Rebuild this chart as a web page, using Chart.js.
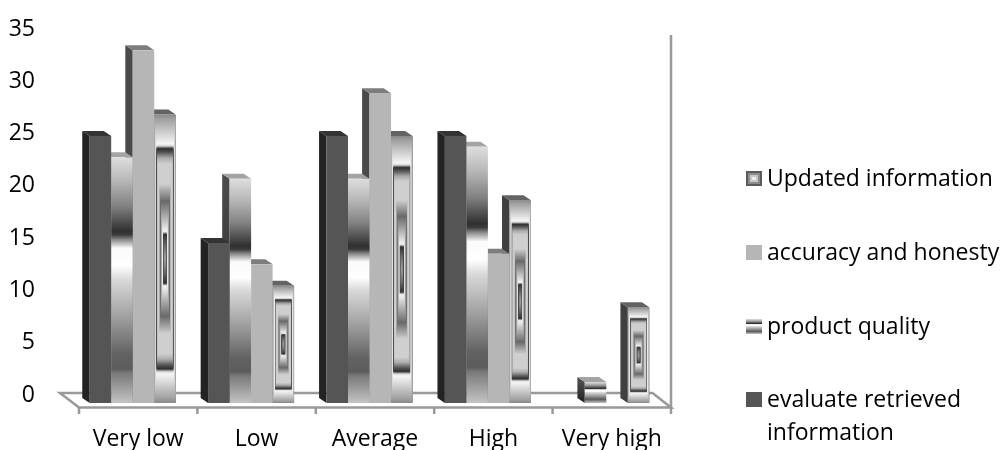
<!DOCTYPE html>
<html>
<head>
<meta charset="utf-8">
<title>Chart</title>
<script src="https://cdn.jsdelivr.net/npm/chart.js@4"></script>
<style>
  html, body { margin: 0; padding: 0; background: #fff; overflow: hidden; }
  canvas { display: block; }
</style>
</head>
<body>
<canvas id="levels_chart" width="1003" height="450"></canvas>
<script>
var categories = ['Very low', 'Low', 'Average', 'High', 'Very high'];
var yTicks = [0, 5, 10, 15, 20, 25, 30, 35];

var evaluateRetrieved = [24, 14, 24, 24, 0];
var productQuality = [22, 20, 20, 23, 1];
var accuracyHonesty = [32, 12, 28, 13, 0];
var updatedInformation = [26, 10, 24, 18, 8];

var FONT = '"Open Sans", sans-serif';
var FONT_SIZE = 23;
var DEPTH_X = 7.4;   // how far a column's back edge sits left of its front
var DEPTH_Y = 5;     // and how far above
var FLOOR_SHIFT = 5.5; // floor ticks sit right of the column plane

// grey bands used for the two patterned series
var bandStops = [
  [0, '#dedede'], [0.1, '#b5b5b5'], [0.2, '#808080'], [0.3, '#303030'],
  [0.315, '#3a3a3a'], [0.335, '#8a8a8a'], [0.37, '#fafafa'], [0.44, '#ffffff'],
  [0.5, '#d8d8d8'], [0.65, '#a0a0a0'], [0.8, '#626262'], [0.86, '#5c5c5c'],
  [0.88, '#7a7a7a'], [1, '#c4c4c4']
];
var frameStops = [
  [0, '#8a8a8a'], [0.03, '#a0a0a0'], [0.2, '#f5f5f5'], [0.215, '#dddddd'],
  [0.235, '#2f2f2f'], [0.26, '#555555'], [0.3, '#aaaaaa'], [0.34, '#cfcfcf'],
  [0.48, '#cfcfcf'], [0.6, '#6a6a6a'], [0.7, '#aaaaaa'], [0.81, '#f5f5f5'],
  [0.83, '#333333'], [0.9, '#666666'], [1, '#aaaaaa']
];

function greyAt(stops, t) {
  for (var i = 1; i < stops.length; i++) {
    if (t <= stops[i][0]) {
      var a = stops[i - 1], b = stops[i];
      var k = (t - a[0]) / (b[0] - a[0]);
      var g1 = parseInt(a[1].substr(1, 2), 16);
      var g2 = parseInt(b[1].substr(1, 2), 16);
      var g = Math.round(g1 + (g2 - g1) * k);
      return 'rgb(' + g + ',' + g + ',' + g + ')';
    }
  }
  return stops[stops.length - 1][1];
}

function fillBands(ctx, x, y, w, h) {
  var grad = ctx.createLinearGradient(0, y, 0, y + h);
  bandStops.forEach(function(s) { grad.addColorStop(s[0], s[1]); });
  ctx.fillStyle = grad;
  ctx.fillRect(x, y, w, h);
}

// nested rectangles, outer edge to centre
function fillFrame(ctx, x, y, w, h) {
  var steps = Math.max(60, Math.ceil(h));
  for (var i = 0; i < steps; i++) {
    var t = i / steps;
    ctx.fillStyle = greyAt(frameStops, t);
    ctx.fillRect(x + t * w / 2, y + t * h / 2, w * (1 - t), h * (1 - t));
  }
}

function fillSolid(color) {
  return function(ctx, x, y, w, h) {
    ctx.fillStyle = color;
    ctx.fillRect(x, y, w, h);
  };
}

function polygon(ctx, pts, fill) {
  ctx.beginPath();
  ctx.moveTo(pts[0][0], pts[0][1]);
  for (var i = 1; i < pts.length; i++) ctx.lineTo(pts[i][0], pts[i][1]);
  ctx.closePath();
  ctx.fillStyle = fill;
  ctx.fill();
}

function drawColumn(ctx, bar, look) {
  var left = bar.x - bar.width / 2;
  var right = bar.x + bar.width / 2;
  var top = bar.y;
  var base = bar.base;

  var side = look.side;
  if (look.sideBottom) {
    side = ctx.createLinearGradient(0, top, 0, base);
    side.addColorStop(0, look.side);
    side.addColorStop(1, look.sideBottom);
  }
  polygon(ctx, [[left, top], [left - DEPTH_X, top - DEPTH_Y], [left - DEPTH_X, base - DEPTH_Y], [left, base]], side);
  polygon(ctx, [[left, top], [left - DEPTH_X, top - DEPTH_Y], [right - DEPTH_X, top - DEPTH_Y], [right, top]], look.top);
  look.front(ctx, left, top, right - left, base - top);
}

var looks = [
  { front: fillSolid('#555555'), side: '#232323', top: '#333333', swatch: fillSolid('#555555') },
  { front: fillBands, side: '#4c4c4c', sideBottom: '#1f1f1f', top: '#a4a4a4', swatch: fillBands },
  { front: fillSolid('#b6b6b6'), side: '#4a4a4a', top: '#7d7d7d', swatch: fillSolid('#b6b6b6') },
  { front: fillFrame, side: '#404040', top: '#636363', swatch: function(ctx, x, y, w, h) {
    ctx.fillStyle = '#5a5a5a';
    ctx.fillRect(x, y, w, h);
    ctx.fillStyle = '#8c8c8c';
    ctx.fillRect(x + 2, y + 2, w - 4, h - 4);
    ctx.fillStyle = '#c8c8c8';
    ctx.fillRect(x + 4, y + 4, w - 8, h - 8);
    ctx.fillStyle = '#eeeeee';
    ctx.fillRect(x + 6, y + 6, w - 12, h - 12);
  } }
];

// floor, right wall and category ticks
function drawFloor(chart) {
  var ctx = chart.ctx;
  var xs = chart.scales.x;
  var backY = chart.scales.y.getPixelForValue(0);
  var frontY = backY + 14.5;
  var frontLeft = xs.left + FLOOR_SHIFT;
  var frontRight = xs.right + FLOOR_SHIFT;
  var step = (xs.right - xs.left) / categories.length;

  ctx.save();
  ctx.strokeStyle = '#999999';
  ctx.lineWidth = 2.5;
  ctx.beginPath();
  ctx.moveTo(frontLeft - 19, backY);
  ctx.lineTo(frontRight - 18.5, backY);
  ctx.lineTo(frontRight, frontY);
  ctx.lineTo(frontLeft, frontY);
  ctx.closePath();
  ctx.moveTo(frontRight, frontY);
  ctx.lineTo(frontRight, 35);
  for (var i = 0; i <= categories.length; i++) {
    ctx.moveTo(frontLeft + i * step, frontY);
    ctx.lineTo(frontLeft + i * step, frontY + 6.5);
  }
  ctx.stroke();
  ctx.restore();
}

function drawLegend(chart) {
  var ctx = chart.ctx;
  var baselines = [186, 260, 334, 407];
  ctx.save();
  ctx.font = FONT_SIZE + 'px ' + FONT;
  ctx.textBaseline = 'alphabetic';
  ctx.textAlign = 'left';
  // listed bottom up, last series first
  chart.data.datasets.forEach(function(ds, i) {
    var row = chart.data.datasets.length - 1 - i;
    var lines = [].concat(ds.label);
    looks[i].swatch(ctx, 746, baselines[row] - 15, 16, 15);
    ctx.fillStyle = '#000';
    lines.forEach(function(line, n) {
      ctx.fillText(line, 767, baselines[row] + n * 33);
    });
  });
  ctx.restore();
}

var columns3d = {
  id: 'columns3d',
  beforeDatasetsDraw: function(chart) {
    var ctx = chart.ctx;
    drawFloor(chart);
    for (var c = 0; c < categories.length; c++) {
      // right to left so each front hides the next column's side
      for (var d = chart.data.datasets.length - 1; d >= 0; d--) {
        if (!chart.data.datasets[d].data[c]) continue;
        drawColumn(ctx, chart.getDatasetMeta(d).data[c], looks[d]);
      }
    }
    drawLegend(chart);
    return false;
  }
};

function series(label, values) {
  return { label: label, data: values, yAxisID: 'yFront', base: -0.96 };
}

// keep the plot area where the layout padding puts it
function noOverhang(scale) {
  scale.paddingTop = 0;
  scale.paddingBottom = 0;
  scale.paddingLeft = 0;
  scale.paddingRight = 0;
}

var vc = document.getElementById('levels_chart');
var levelsChart = new Chart(vc, {
  type: 'bar',
  data: {
    labels: categories,
    datasets: [
      series(['evaluate retrieved', 'information'], evaluateRetrieved),
      series('product quality', productQuality),
      series('accuracy and honesty', accuracyHonesty),
      series('Updated information', updatedInformation)
    ]
  },
  options: {
    responsive: false,
    animation: false,
    events: [],
    layout: { padding: { top: 27, right: 337.5, left: 0, bottom: 0 } },
    datasets: { bar: { barPercentage: 1, categoryPercentage: 0.727 } },
    plugins: { legend: { display: false }, tooltip: { enabled: false } },
    scales: {
      x: {
        grid: { display: false, drawTicks: false },
        border: { display: false },
        afterFit: function(scale) { scale.height = 47; noOverhang(scale); },
        ticks: {
          padding: 23,
          labelOffset: FLOOR_SHIFT,
          autoSkip: false,
          maxRotation: 0,
          color: '#000',
          font: { family: FONT, size: FONT_SIZE }
        }
      },
      // back wall: carries the printed tick labels
      y: {
        min: -0.956,
        max: 35,
        grid: { display: false, drawTicks: false },
        border: { display: false },
        afterFit: function(scale) { scale.width = 73.5; noOverhang(scale); },
        afterBuildTicks: function(scale) {
          scale.ticks = yTicks.map(function(v) { return { value: v }; });
        },
        ticks: {
          padding: 38.5,
          labelOffset: 2,
          color: '#000',
          font: { family: FONT, size: FONT_SIZE }
        }
      },
      // front plane of the columns, slightly larger than the wall
      yFront: {
        display: false,
        min: -0.96,
        max: 34.18
      }
    }
  },
  plugins: [columns3d]
});
</script>
</body>
</html>
